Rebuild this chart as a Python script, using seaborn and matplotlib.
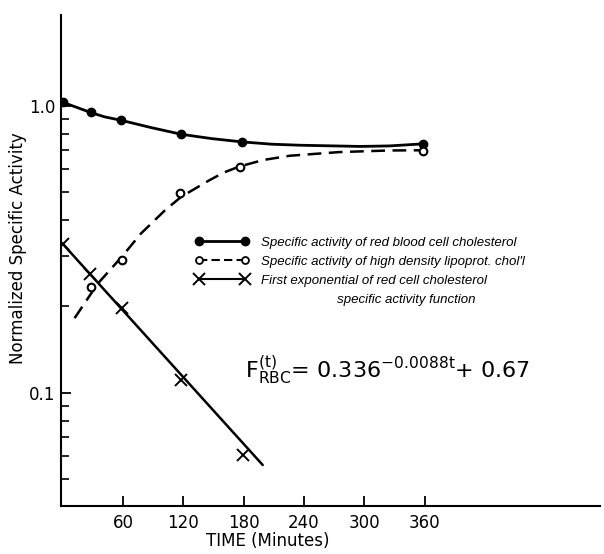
import matplotlib
matplotlib.use('Agg')
import matplotlib.pyplot as plt
from matplotlib.lines import Line2D
from matplotlib.ticker import FixedLocator, NullFormatter
import numpy as np
import pandas as pd
import seaborn as sns

# 적혈구 콜레스테롤 비활성도 (측정점)
rbc_t = [0, 28, 58, 118, 178, 358]
rbc_v = [1.03, 0.948, 0.891, 0.796, 0.749, 0.737]
# 적혈구 곡선
rbc_curve_t = [0, 28, 42, 58, 88, 118, 148, 178, 208, 236, 296, 325, 358]
rbc_curve_v = [1.03, 0.948, 0.915, 0.891, 0.840, 0.796, 0.769, 0.749, 0.735, 0.729, 0.722, 0.725, 0.737]

# HDL 콜레스테롤 비활성도
hdl_t = [28, 59, 117, 176, 358]
hdl_v = [0.234, 0.291, 0.495, 0.612, 0.695]
hdl_curve_t = [12, 35, 59, 78, 102, 118, 145, 160, 176, 200, 226, 275, 325, 358]
hdl_curve_v = [0.182, 0.240, 0.298, 0.359, 0.433, 0.482, 0.548, 0.585, 0.615, 0.648, 0.670, 0.690, 0.699, 0.700]

# 첫번째 지수항
exp_t = [0, 27, 59, 118, 179]
exp_v = [0.331, 0.26, 0.197, 0.111, 0.0607]
exp_line_t = [0, 199]
exp_line_v = [0.331, 0.056]

x_ticks = [60, 120, 180, 240, 300, 360]
y_major = [0.1, 1.0]
y_major_labels = ['0.1', '1.0']
y_minor = [0.05, 0.06, 0.07, 0.08, 0.09, 0.2, 0.3, 0.4, 0.5, 0.6, 0.7, 0.8, 0.9]

legend_labels = [
    'Specific activity of red blood cell cholesterol',
    "Specific activity of high density lipoprot. chol'l",
    'First exponential of red cell cholesterol',
    '                     specific activity function',
]

sns.set_style('ticks', {'text.color': 'black', 'axes.labelcolor': 'black', 'xtick.color': 'black',
                        'ytick.color': 'black', 'axes.edgecolor': 'black'})
plt.rcParams['font.family'] = ['DejaVu Sans']

fig = plt.figure(figsize=(6.04, 5.54), dpi=100)
ax = fig.add_axes([0.101, 0.0866, 0.892, 0.886])
ax.set_yscale('log')

rbc_curve = pd.DataFrame({'t': rbc_curve_t, 'v': rbc_curve_v})
hdl_curve = pd.DataFrame({'t': hdl_curve_t, 'v': hdl_curve_v})
exp_line = pd.DataFrame({'t': exp_line_t, 'v': exp_line_v})

sns.lineplot(data=rbc_curve, x='t', y='v', ax=ax, color='black', lw=2, sort=False, estimator=None)
sns.lineplot(data=hdl_curve, x='t', y='v', ax=ax, color='black', lw=1.8, sort=False, estimator=None,
             dashes=False, linestyle=(0, (5.5, 3)))
sns.lineplot(data=exp_line, x='t', y='v', ax=ax, color='black', lw=1.8, sort=False, estimator=None)

ax.plot(rbc_t, rbc_v, 'o', color='black', ms=6)
ax.plot(hdl_t, hdl_v, 'o', mfc='white', mec='black', mew=1.5, ms=5.5)
ax.plot(exp_t, exp_v, 'x', color='black', mew=1.4, ms=8)

ax.set_xlim(-1.5, 534)
ax.set_ylim(0.0403, 2.07)

ax.xaxis.set_major_locator(FixedLocator(x_ticks))
ax.set_xticklabels([str(t) for t in x_ticks])
ax.yaxis.set_major_locator(FixedLocator(y_major))
ax.set_yticklabels(y_major_labels)
ax.yaxis.set_minor_locator(FixedLocator(y_minor))
ax.yaxis.set_minor_formatter(NullFormatter())
ax.xaxis.set_minor_locator(FixedLocator([]))

ax.tick_params(axis='both', which='major', direction='in', length=7, width=1.3, labelsize=12, pad=6)
ax.tick_params(axis='y', which='minor', direction='in', length=6, width=1.2)
ax.tick_params(axis='y', which='major', pad=4)
sns.despine(ax=ax)
for s in ['left', 'bottom']:
    ax.spines[s].set_linewidth(1.5)

ax.set_xlabel('TIME (Minutes)', fontsize=12)
ax.set_ylabel('Normalized Specific Activity', fontsize=12)
ax.xaxis.set_label_coords(0.384, -0.053)
ax.yaxis.set_label_coords(-0.064, 0.525)

handles = [
    Line2D([], [], color='black', lw=2, marker='o', ms=6),
    Line2D([], [], color='black', lw=1.5, linestyle=(0, (4, 2)), marker='o', mfc='white', mec='black', mew=1.3, ms=5),
    Line2D([], [], color='black', lw=1.5, marker='x', mew=1.4, ms=8),
    Line2D([], [], linestyle='none'),
]
ax.legend(handles, legend_labels, numpoints=2, loc='upper left', bbox_to_anchor=(0.237, 0.562),
          frameon=False, handlelength=4.1, handletextpad=0.9, labelspacing=0.5, borderpad=0,
          prop={'family': ['Liberation Sans', 'DejaVu Sans'], 'style': 'italic', 'size': 9.5})

ax.text(0.341, 0.277, r'$\mathregular{F_{RBC}^{(t)}}$= 0.336$^{\mathregular{-0.0088t}}$+ 0.67',
        transform=ax.transAxes, fontsize=16, va='center', ha='left')

fig.savefig('out.png', dpi=100)
